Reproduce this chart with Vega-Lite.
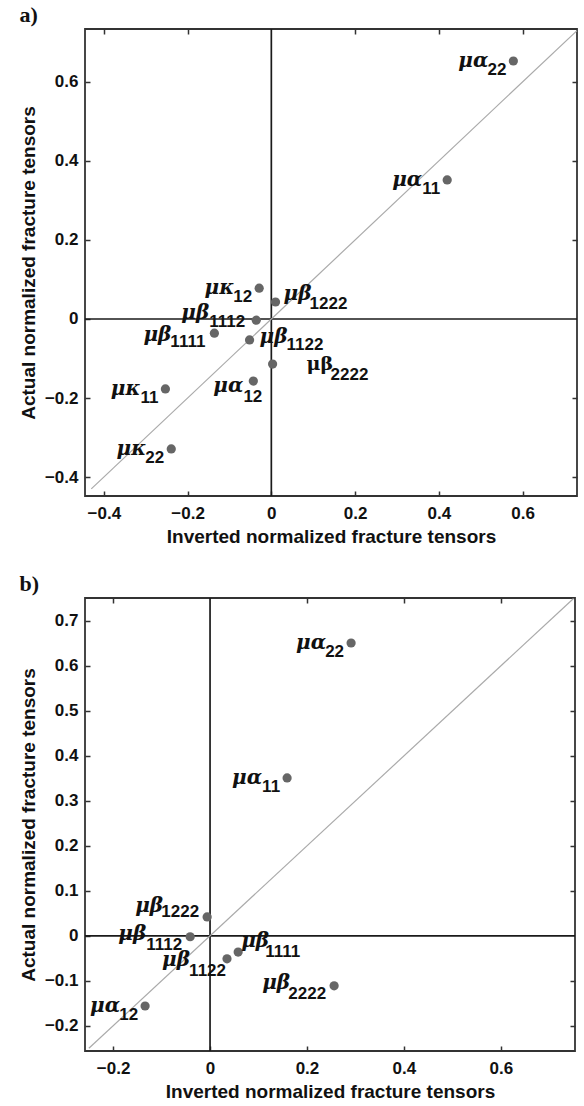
{
  "$schema": "https://vega.github.io/schema/vega-lite/v6.json",
  "padding": {"left": 18, "top": 3, "right": 0, "bottom": 0},
  "background": "white",
  "spacing": 25,
  "datasets": {
    "a": [
      {"key": "μα22", "greek": "μα", "sub": "22", "inverted": 0.578, "actual": 0.653},
      {"key": "μα11", "greek": "μα", "sub": "11", "inverted": 0.42, "actual": 0.352},
      {"key": "μκ12", "greek": "μκ", "sub": "12", "inverted": -0.029, "actual": 0.078},
      {"key": "μβ1222", "greek": "μβ", "sub": "1222", "inverted": 0.01, "actual": 0.043},
      {"key": "μβ1112", "greek": "μβ", "sub": "1112", "inverted": -0.036, "actual": -0.003},
      {"key": "μβ1111", "greek": "μβ", "sub": "1111", "inverted": -0.136, "actual": -0.036},
      {"key": "μβ1122", "greek": "μβ", "sub": "1122", "inverted": -0.052, "actual": -0.053},
      {"key": "μβ2222", "greek": "μβ", "sub": "2222", "inverted": 0.003, "actual": -0.114},
      {"key": "μα12", "greek": "μα", "sub": "12", "inverted": -0.043, "actual": -0.157},
      {"key": "μκ11", "greek": "μκ", "sub": "11", "inverted": -0.253, "actual": -0.177},
      {"key": "μκ22", "greek": "μκ", "sub": "22", "inverted": -0.239, "actual": -0.329}
    ],
    "b": [
      {"key": "μα22", "greek": "μα", "sub": "22", "inverted": 0.291, "actual": 0.651},
      {"key": "μα11", "greek": "μα", "sub": "11", "inverted": 0.159, "actual": 0.351},
      {"key": "μβ1222", "greek": "μβ", "sub": "1222", "inverted": -0.006, "actual": 0.042},
      {"key": "μβ1112", "greek": "μβ", "sub": "1112", "inverted": -0.041, "actual": -0.002},
      {"key": "μβ1122", "greek": "μβ", "sub": "1122", "inverted": 0.035, "actual": -0.051},
      {"key": "μβ1111", "greek": "μβ", "sub": "1111", "inverted": 0.058, "actual": -0.036},
      {"key": "μα12", "greek": "μα", "sub": "12", "inverted": -0.134, "actual": -0.156},
      {"key": "μβ2222", "greek": "μβ", "sub": "2222", "inverted": 0.256, "actual": -0.111}
    ]
  },
  "config": {
    "font": "Liberation Sans",
    "view": {"stroke": "#333333", "strokeWidth": 1.8},
    "axis": {
      "labelFont": "Liberation Sans", "labelFontWeight": "bold", "labelFontSize": 17, "labelColor": "#111111",
      "titleFont": "Liberation Sans", "titleFontSize": 19, "titleFontWeight": "bold", "titleColor": "#111111",
      "domain": false, "grid": false, "tickColor": "#333333", "tickSize": -5, "tickWidth": 1.5,
      "labelPadding": 14, "titlePadding": 6
    },
    "axisLeft": {"labelPadding": 12},
    "text": {"color": "#111111", "baseline": "alphabetic"}
  },
  "vconcat": [
    {
      "width": 492, "height": 467,
      "title": {"text": "a)", "anchor": "start", "frame": "bounds", "font": "Liberation Serif", "fontSize": 22, "fontWeight": "bold", "color": "#111111", "offset": 1},
      "data": {"name": "a"},
      "resolve": {"axis": {"x": "independent", "y": "independent"}},
      "layer": [
        {"data": {"values": [{}]}, "mark": {"type": "rule", "color": "#1a1a1a", "strokeWidth": 1.7},
         "encoding": {"x": {"datum": 0, "type": "quantitative", "axis": {"orient": "top", "labels": false, "title": null, "values": [-0.4, -0.2, 0.2, 0.4, 0.6]}}}},
        {"data": {"values": [{}]}, "mark": {"type": "rule", "color": "#1a1a1a", "strokeWidth": 1.7},
         "encoding": {"y": {"datum": 0, "type": "quantitative", "axis": {"orient": "right", "labels": false, "title": null, "values": [-0.4, -0.2, 0.2, 0.4, 0.6]}}}},
        {"data": {"values": [{}]}, "mark": {"type": "rule", "color": "#aaaaaa", "strokeWidth": 1.2},
         "encoding": {"x": {"datum": -0.43, "type": "quantitative", "axis": null}, "y": {"datum": -0.43, "type": "quantitative", "axis": null}, "x2": {"datum": 0.73}, "y2": {"datum": 0.73}}},
        {"mark": {"type": "circle", "size": 85, "color": "#666666", "opacity": 1},
         "encoding": {
           "x": {"field": "inverted", "type": "quantitative", "scale": {"domain": [-0.445, 0.73], "nice": false, "zero": false},
                 "axis": {"orient": "bottom", "title": "Inverted normalized fracture tensors", "values": [-0.4, -0.2, 0, 0.2, 0.4, 0.6], "format": "~g"}},
           "y": {"field": "actual", "type": "quantitative", "scale": {"domain": [-0.448, 0.734], "nice": false, "zero": false},
                 "axis": {"orient": "left", "title": "Actual normalized fracture tensors", "values": [-0.4, -0.2, 0, 0.2, 0.4, 0.6], "format": "~g"}}
         }},
        {"transform": [{"filter": {"field": "key", "oneOf": ["μα22", "μα11", "μκ12", "μκ11", "μκ22"]}}],
         "mark": {"type": "text", "align": "right", "dx": -25, "dy": 6, "font": "DejaVu Serif", "fontSize": 20, "fontStyle": "italic", "fontWeight": "bold"},
         "encoding": {"x": {"field": "inverted", "type": "quantitative", "axis": null}, "y": {"field": "actual", "type": "quantitative", "axis": null}, "text": {"field": "greek"}}},
        {"transform": [{"filter": {"field": "key", "oneOf": ["μα22", "μα11", "μκ12", "μκ11", "μκ22"]}}],
         "mark": {"type": "text", "align": "right", "dx": -7, "dy": 14, "font": "Liberation Sans", "fontSize": 17, "fontWeight": "bold"},
         "encoding": {"x": {"field": "inverted", "type": "quantitative", "axis": null}, "y": {"field": "actual", "type": "quantitative", "axis": null}, "text": {"field": "sub"}}},
        {"transform": [{"filter": {"field": "key", "equal": "μβ1112"}}],
         "mark": {"type": "text", "align": "right", "dx": -47, "dy": -1, "font": "DejaVu Serif", "fontSize": 20, "fontStyle": "italic", "fontWeight": "bold"},
         "encoding": {"x": {"field": "inverted", "type": "quantitative", "axis": null}, "y": {"field": "actual", "type": "quantitative", "axis": null}, "text": {"field": "greek"}}},
        {"transform": [{"filter": {"field": "key", "equal": "μβ1112"}}],
         "mark": {"type": "text", "align": "right", "dx": -11, "dy": 7, "font": "Liberation Sans", "fontSize": 17, "fontWeight": "bold"},
         "encoding": {"x": {"field": "inverted", "type": "quantitative", "axis": null}, "y": {"field": "actual", "type": "quantitative", "axis": null}, "text": {"field": "sub"}}},
        {"transform": [{"filter": {"field": "key", "equal": "μβ1111"}}],
         "mark": {"type": "text", "align": "right", "dx": -43, "dy": 8, "font": "DejaVu Serif", "fontSize": 20, "fontStyle": "italic", "fontWeight": "bold"},
         "encoding": {"x": {"field": "inverted", "type": "quantitative", "axis": null}, "y": {"field": "actual", "type": "quantitative", "axis": null}, "text": {"field": "greek"}}},
        {"transform": [{"filter": {"field": "key", "equal": "μβ1111"}}],
         "mark": {"type": "text", "align": "right", "dx": -9, "dy": 14, "font": "Liberation Sans", "fontSize": 17, "fontWeight": "bold"},
         "encoding": {"x": {"field": "inverted", "type": "quantitative", "axis": null}, "y": {"field": "actual", "type": "quantitative", "axis": null}, "text": {"field": "sub"}}},
        {"transform": [{"filter": {"field": "key", "equal": "μβ1222"}}],
         "mark": {"type": "text", "align": "left", "dx": 8, "dy": -2, "font": "DejaVu Serif", "fontSize": 20, "fontStyle": "italic", "fontWeight": "bold"},
         "encoding": {"x": {"field": "inverted", "type": "quantitative", "axis": null}, "y": {"field": "actual", "type": "quantitative", "axis": null}, "text": {"field": "greek"}}},
        {"transform": [{"filter": {"field": "key", "equal": "μβ1222"}}],
         "mark": {"type": "text", "align": "left", "dx": 34, "dy": 7, "font": "Liberation Sans", "fontSize": 17, "fontWeight": "bold"},
         "encoding": {"x": {"field": "inverted", "type": "quantitative", "axis": null}, "y": {"field": "actual", "type": "quantitative", "axis": null}, "text": {"field": "sub"}}},
        {"transform": [{"filter": {"field": "key", "equal": "μβ1122"}}],
         "mark": {"type": "text", "align": "left", "dx": 10, "dy": 3, "font": "DejaVu Serif", "fontSize": 20, "fontStyle": "italic", "fontWeight": "bold"},
         "encoding": {"x": {"field": "inverted", "type": "quantitative", "axis": null}, "y": {"field": "actual", "type": "quantitative", "axis": null}, "text": {"field": "greek"}}},
        {"transform": [{"filter": {"field": "key", "equal": "μβ1122"}}],
         "mark": {"type": "text", "align": "left", "dx": 37, "dy": 10, "font": "Liberation Sans", "fontSize": 17, "fontWeight": "bold"},
         "encoding": {"x": {"field": "inverted", "type": "quantitative", "axis": null}, "y": {"field": "actual", "type": "quantitative", "axis": null}, "text": {"field": "sub"}}},
        {"transform": [{"filter": {"field": "key", "equal": "μβ2222"}}],
         "mark": {"type": "text", "align": "left", "dx": 34, "dy": 6, "font": "DejaVu Serif", "fontSize": 19, "fontWeight": "bold"},
         "encoding": {"x": {"field": "inverted", "type": "quantitative", "axis": null}, "y": {"field": "actual", "type": "quantitative", "axis": null}, "text": {"field": "greek"}}},
        {"transform": [{"filter": {"field": "key", "equal": "μβ2222"}}],
         "mark": {"type": "text", "align": "left", "dx": 58, "dy": 16, "font": "Liberation Sans", "fontSize": 17, "fontWeight": "bold"},
         "encoding": {"x": {"field": "inverted", "type": "quantitative", "axis": null}, "y": {"field": "actual", "type": "quantitative", "axis": null}, "text": {"field": "sub"}}},
        {"transform": [{"filter": {"field": "key", "equal": "μα12"}}],
         "mark": {"type": "text", "align": "right", "dx": -10, "dy": 11, "font": "DejaVu Serif", "fontSize": 20, "fontStyle": "italic", "fontWeight": "bold"},
         "encoding": {"x": {"field": "inverted", "type": "quantitative", "axis": null}, "y": {"field": "actual", "type": "quantitative", "axis": null}, "text": {"field": "greek"}}},
        {"transform": [{"filter": {"field": "key", "equal": "μα12"}}],
         "mark": {"type": "text", "align": "right", "dx": 9, "dy": 21, "font": "Liberation Sans", "fontSize": 17, "fontWeight": "bold"},
         "encoding": {"x": {"field": "inverted", "type": "quantitative", "axis": null}, "y": {"field": "actual", "type": "quantitative", "axis": null}, "text": {"field": "sub"}}}
      ]
    },
    {
      "width": 490, "height": 453,
      "title": {"text": "b)", "anchor": "start", "frame": "bounds", "font": "Liberation Serif", "fontSize": 22, "fontWeight": "bold", "color": "#111111", "offset": 1},
      "data": {"name": "b"},
      "resolve": {"axis": {"x": "independent", "y": "independent"}},
      "layer": [
        {"data": {"values": [{}]}, "mark": {"type": "rule", "color": "#1a1a1a", "strokeWidth": 1.7},
         "encoding": {"x": {"datum": 0, "type": "quantitative", "axis": {"orient": "top", "labels": false, "title": null, "values": [-0.2, 0.2, 0.4, 0.6]}}}},
        {"data": {"values": [{}]}, "mark": {"type": "rule", "color": "#1a1a1a", "strokeWidth": 1.7},
         "encoding": {"y": {"datum": 0, "type": "quantitative", "axis": {"orient": "right", "labels": false, "title": null, "values": [-0.2, -0.1, 0.1, 0.2, 0.3, 0.4, 0.5, 0.6, 0.7]}}}},
        {"data": {"values": [{}]}, "mark": {"type": "rule", "color": "#aaaaaa", "strokeWidth": 1.2},
         "encoding": {"x": {"datum": -0.25, "type": "quantitative", "axis": null}, "y": {"datum": -0.25, "type": "quantitative", "axis": null}, "x2": {"datum": 0.75}, "y2": {"datum": 0.75}}},
        {"mark": {"type": "circle", "size": 85, "color": "#666666", "opacity": 1},
         "encoding": {
           "x": {"field": "inverted", "type": "quantitative", "scale": {"domain": [-0.258, 0.753], "nice": false, "zero": false},
                 "axis": {"orient": "bottom", "title": "Inverted normalized fracture tensors", "values": [-0.2, 0, 0.2, 0.4, 0.6], "format": "~g"}},
           "y": {"field": "actual", "type": "quantitative", "scale": {"domain": [-0.256, 0.751], "nice": false, "zero": false},
                 "axis": {"orient": "left", "title": "Actual normalized fracture tensors", "values": [-0.2, -0.1, 0, 0.1, 0.2, 0.3, 0.4, 0.5, 0.6, 0.7], "format": "~g"}}
         }},
        {"transform": [{"filter": {"field": "key", "oneOf": ["μα22", "μα11", "μα12"]}}],
         "mark": {"type": "text", "align": "right", "dx": -25, "dy": 6, "font": "DejaVu Serif", "fontSize": 20, "fontStyle": "italic", "fontWeight": "bold"},
         "encoding": {"x": {"field": "inverted", "type": "quantitative", "axis": null}, "y": {"field": "actual", "type": "quantitative", "axis": null}, "text": {"field": "greek"}}},
        {"transform": [{"filter": {"field": "key", "oneOf": ["μα22", "μα11", "μα12"]}}],
         "mark": {"type": "text", "align": "right", "dx": -7, "dy": 14, "font": "Liberation Sans", "fontSize": 17, "fontWeight": "bold"},
         "encoding": {"x": {"field": "inverted", "type": "quantitative", "axis": null}, "y": {"field": "actual", "type": "quantitative", "axis": null}, "text": {"field": "sub"}}},
        {"transform": [{"filter": {"field": "key", "oneOf": ["μβ1112", "μβ2222"]}}],
         "mark": {"type": "text", "align": "right", "dx": -44, "dy": 3, "font": "DejaVu Serif", "fontSize": 20, "fontStyle": "italic", "fontWeight": "bold"},
         "encoding": {"x": {"field": "inverted", "type": "quantitative", "axis": null}, "y": {"field": "actual", "type": "quantitative", "axis": null}, "text": {"field": "greek"}}},
        {"transform": [{"filter": {"field": "key", "oneOf": ["μβ1112", "μβ2222"]}}],
         "mark": {"type": "text", "align": "right", "dx": -8, "dy": 13, "font": "Liberation Sans", "fontSize": 17, "fontWeight": "bold"},
         "encoding": {"x": {"field": "inverted", "type": "quantitative", "axis": null}, "y": {"field": "actual", "type": "quantitative", "axis": null}, "text": {"field": "sub"}}},
        {"transform": [{"filter": {"field": "key", "equal": "μβ1222"}}],
         "mark": {"type": "text", "align": "right", "dx": -44, "dy": -5, "font": "DejaVu Serif", "fontSize": 20, "fontStyle": "italic", "fontWeight": "bold"},
         "encoding": {"x": {"field": "inverted", "type": "quantitative", "axis": null}, "y": {"field": "actual", "type": "quantitative", "axis": null}, "text": {"field": "greek"}}},
        {"transform": [{"filter": {"field": "key", "equal": "μβ1222"}}],
         "mark": {"type": "text", "align": "right", "dx": -8, "dy": 0, "font": "Liberation Sans", "fontSize": 17, "fontWeight": "bold"},
         "encoding": {"x": {"field": "inverted", "type": "quantitative", "axis": null}, "y": {"field": "actual", "type": "quantitative", "axis": null}, "text": {"field": "sub"}}},
        {"transform": [{"filter": {"field": "key", "equal": "μβ1122"}}],
         "mark": {"type": "text", "align": "right", "dx": -37, "dy": 7, "font": "DejaVu Serif", "fontSize": 20, "fontStyle": "italic", "fontWeight": "bold"},
         "encoding": {"x": {"field": "inverted", "type": "quantitative", "axis": null}, "y": {"field": "actual", "type": "quantitative", "axis": null}, "text": {"field": "greek"}}},
        {"transform": [{"filter": {"field": "key", "equal": "μβ1122"}}],
         "mark": {"type": "text", "align": "right", "dx": -1, "dy": 17, "font": "Liberation Sans", "fontSize": 17, "fontWeight": "bold"},
         "encoding": {"x": {"field": "inverted", "type": "quantitative", "axis": null}, "y": {"field": "actual", "type": "quantitative", "axis": null}, "text": {"field": "sub"}}},
        {"transform": [{"filter": {"field": "key", "equal": "μβ1111"}}],
         "mark": {"type": "text", "align": "left", "dx": 3, "dy": -5, "font": "DejaVu Serif", "fontSize": 20, "fontStyle": "italic", "fontWeight": "bold"},
         "encoding": {"x": {"field": "inverted", "type": "quantitative", "axis": null}, "y": {"field": "actual", "type": "quantitative", "axis": null}, "text": {"field": "greek"}}},
        {"transform": [{"filter": {"field": "key", "equal": "μβ1111"}}],
         "mark": {"type": "text", "align": "left", "dx": 27, "dy": 5, "font": "Liberation Sans", "fontSize": 17, "fontWeight": "bold"},
         "encoding": {"x": {"field": "inverted", "type": "quantitative", "axis": null}, "y": {"field": "actual", "type": "quantitative", "axis": null}, "text": {"field": "sub"}}}
      ]
    }
  ]
}
